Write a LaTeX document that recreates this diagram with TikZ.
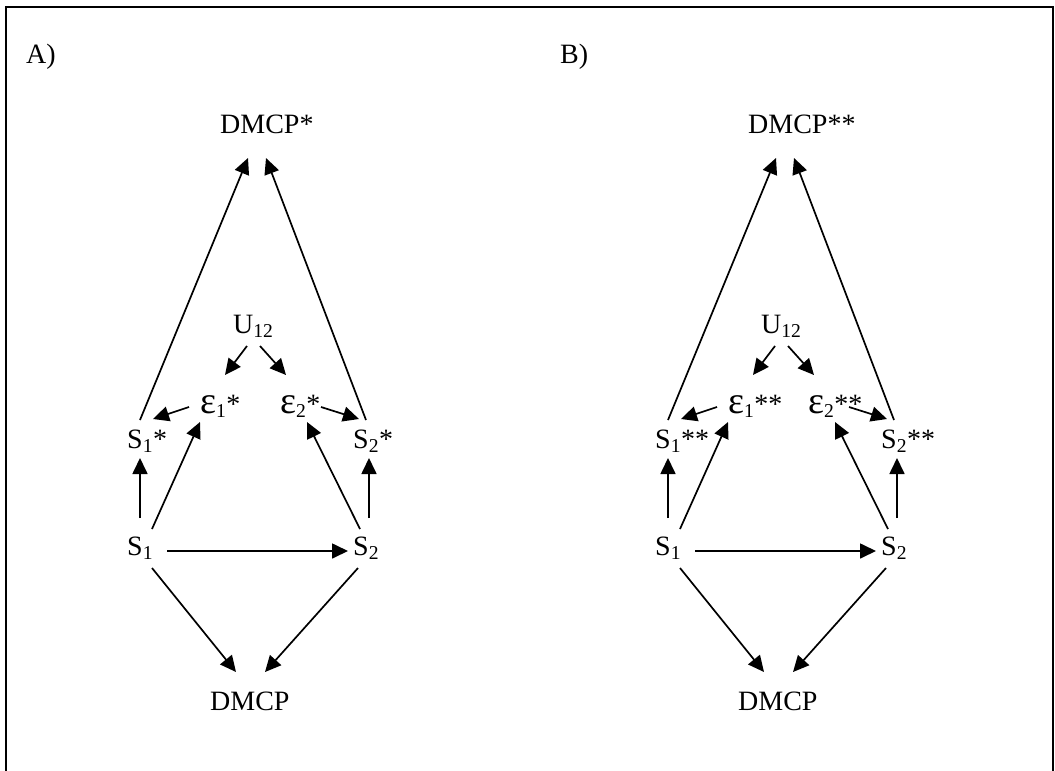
\documentclass[tikz,border=0pt]{standalone}
\usepackage{fontspec}
\setmainfont{Liberation Serif}
\usetikzlibrary{arrows.meta}

\newcommand{\epsbig}{{\fontsize{38}{40}\selectfont ε}}

\tikzset{
	lbl/.style={anchor=base west, inner sep=0pt, font=\fontsize{28}{32}\selectfont},
	arr/.style={line width=1.7pt, -{Triangle[length=16pt,width=15pt]}}
}

\begin{document}
\begin{tikzpicture}[x=1pt,y=-1pt]

	\useasboundingbox (0,0) rectangle (1055,771);

	% frame
	\draw[line width=2.5pt] (6,771) -- (6,7) -- (1053,7) -- (1053,771);

	\node[lbl] (labA) at (26,63) {A)};
	\node[lbl] (labB) at (560,63) {B)};

	\foreach \p/\dx/\st in {A/0/*,B/528/**}{
	\begin{scope}[shift={(\dx,0)}]
		\node[lbl] (top\p) at (220,133) {DMCP\st};
		\node[lbl] (u\p) at (233,333) {U\textsubscript{12}};
		\node[lbl] (eo\p) at (200,413) {\epsbig\textsubscript{1}\st};
		\node[lbl] (et\p) at (280,413) {\epsbig\textsubscript{2}\st};
		\node[lbl] (so\p) at (127,448) {S\textsubscript{1}\st};
		\node[lbl] (st\p) at (353,448) {S\textsubscript{2}\st};
		\node[lbl] (sa\p) at (127,555) {S\textsubscript{1}};
		\node[lbl] (sb\p) at (353,555) {S\textsubscript{2}};
		\node[lbl] (bot\p) at (210,710) {DMCP};

		% starred side up to the top
		\draw[arr] ([shift={(13,-28)}]so\p.base west) -- ([shift={(28,25)}]top\p.base west);
		\draw[arr] ([shift={(13,-28)}]st\p.base west) -- ([shift={(46,25)}]top\p.base west);
		% common cause
		\draw[arr] ([shift={(14,13)}]u\p.base west) -- ([shift={(25,-38)}]eo\p.base west);
		\draw[arr] ([shift={(27,13)}]u\p.base west) -- ([shift={(6,-38)}]et\p.base west);
		\draw[arr] ([shift={(-11,-6)}]eo\p.base west) -- ([shift={(26,-29)}]so\p.base west);
		\draw[arr] ([shift={(41,-6)}]et\p.base west) -- ([shift={(6,-29)}]st\p.base west);
		% from S1 and S2
		\draw[arr] ([shift={(13,-37)}]sa\p.base west) -- ([shift={(13,10)}]so\p.base west);
		\draw[arr] ([shift={(25,-26)}]sa\p.base west) -- ([shift={(0,9)}]eo\p.base west);
		\draw[arr] ([shift={(7,-26)}]sb\p.base west) -- ([shift={(27,9)}]et\p.base west);
		\draw[arr] ([shift={(16,-37)}]sb\p.base west) -- ([shift={(16,10)}]st\p.base west);
		\draw[arr] ([shift={(40,-4)}]sa\p.base west) -- ([shift={(-5,-4)}]sb\p.base west);
		\draw[arr] ([shift={(25,13)}]sa\p.base west) -- ([shift={(26,-38)}]bot\p.base west);
		\draw[arr] ([shift={(5,13)}]sb\p.base west) -- ([shift={(55,-38)}]bot\p.base west);
	\end{scope}
	}

\end{tikzpicture}
\end{document}
